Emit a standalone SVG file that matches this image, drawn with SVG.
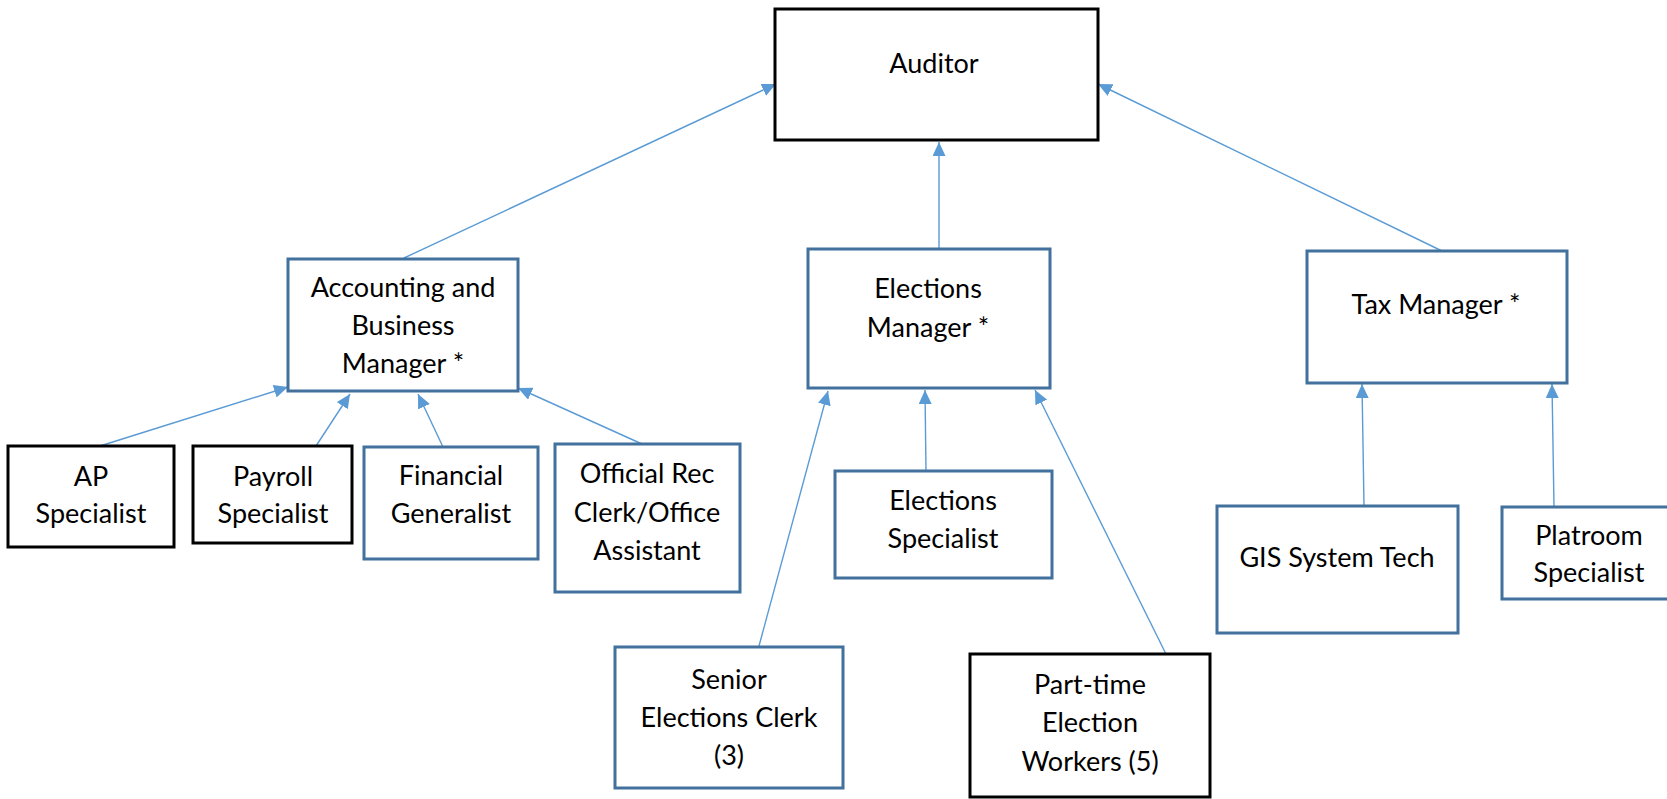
<svg xmlns="http://www.w3.org/2000/svg" width="1667" height="799" viewBox="0 0 1667 799">
<style>
.box{fill:#fff;stroke-width:3}
.blue{stroke:#41719C}
.black{stroke:#000}
text{font-family:Lato,"Open Sans",sans-serif;font-size:27px;fill:#000;text-anchor:middle}
.conn line{stroke:#5B9BD5;stroke-width:1.4;marker-end:url(#arr)}
</style>
<defs>
<marker id="arr" markerUnits="userSpaceOnUse" markerWidth="15" markerHeight="13" refX="14" refY="6.5" orient="auto" viewBox="0 0 15 13">
<path d="M0,0 L14,6.5 L0,13 z" fill="#5B9BD5"/>
</marker>
</defs>
<rect width="1667" height="799" fill="#fff"/>
<g id="connectors" class="conn">
<line x1="404" y1="258" x2="776" y2="84"/>
<line x1="939" y1="249" x2="939" y2="142"/>
<line x1="1442" y1="251" x2="1098" y2="84"/>
<line x1="100" y1="446" x2="288" y2="387"/>
<line x1="316" y1="446" x2="350" y2="394"/>
<line x1="443" y1="447" x2="418" y2="394"/>
<line x1="642" y1="444" x2="518" y2="388"/>
<line x1="759" y1="646" x2="828" y2="391"/>
<line x1="926" y1="471" x2="925" y2="390"/>
<line x1="1166" y1="654" x2="1035" y2="390"/>
<line x1="1364" y1="506" x2="1362" y2="384"/>
<line x1="1554" y1="507" x2="1552" y2="384"/>
</g>
<g id="auditor"><rect class="box black" x="775" y="9" width="323" height="131"/><text x="934" y="73">Auditor</text></g>
<g id="accounting"><rect class="box blue" x="288" y="259" width="230" height="132"/><text x="403" y="297">Accounting and</text><text x="403" y="335">Business</text><text x="403" y="373">Manager *</text></g>
<g id="elections-manager"><rect class="box blue" x="808" y="249" width="242" height="139"/><text x="928" y="298">Elections</text><text x="928" y="337">Manager *</text></g>
<g id="tax-manager"><rect class="box blue" x="1307" y="251" width="260" height="132"/><text x="1436" y="314">Tax Manager *</text></g>
<g id="ap"><rect class="box black" x="8" y="446" width="166" height="101"/><text x="91" y="486">AP</text><text x="91" y="523">Specialist</text></g>
<g id="payroll"><rect class="box black" x="193" y="446" width="159" height="97"/><text x="273" y="486">Payroll</text><text x="273" y="523">Specialist</text></g>
<g id="financial"><rect class="box blue" x="364" y="447" width="174" height="112"/><text x="451" y="485">Financial</text><text x="451" y="523">Generalist</text></g>
<g id="official"><rect class="box blue" x="555" y="444" width="185" height="148"/><text x="647" y="483">Official Rec</text><text x="647" y="522">Clerk/Office</text><text x="647" y="560">Assistant</text></g>
<g id="elections-specialist"><rect class="box blue" x="835" y="471" width="217" height="107"/><text x="943" y="510">Elections</text><text x="943" y="548">Specialist</text></g>
<g id="senior"><rect class="box blue" x="615" y="647" width="228" height="141"/><text x="729" y="689">Senior</text><text x="729" y="727">Elections Clerk</text><text x="729" y="765">(3)</text></g>
<g id="parttime"><rect class="box black" x="970" y="654" width="240" height="143"/><text x="1090" y="694">Part-time</text><text x="1090" y="732">Election</text><text x="1090" y="771">Workers (5)</text></g>
<g id="gis"><rect class="box blue" x="1217" y="506" width="241" height="127"/><text x="1337" y="567">GIS System Tech</text></g>
<g id="platroom"><rect class="box blue" x="1502" y="507" width="176" height="92"/><text x="1589" y="545">Platroom</text><text x="1589" y="582">Specialist</text></g>
</svg>
